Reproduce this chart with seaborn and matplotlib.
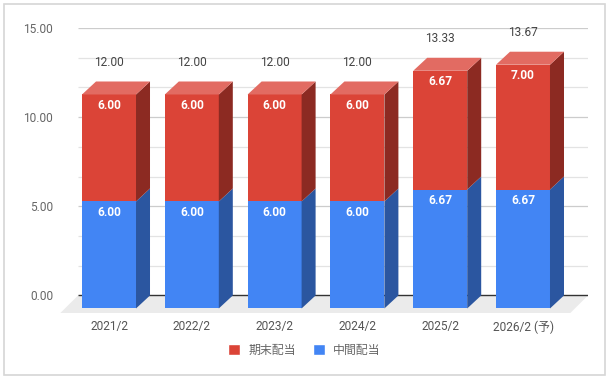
import pandas as pd
import seaborn as sns
from matplotlib import pyplot as plt
from matplotlib.patches import Polygon, Patch, Rectangle

# data
years = ["2021/2", "2022/2", "2023/2", "2024/2", "2025/2", "2026/2 (予)"]
interim = [6.00, 6.00, 6.00, 6.00, 6.67, 6.67]     # 中間配当
final = [6.00, 6.00, 6.00, 6.00, 6.67, 7.00]       # 期末配当
totals = [12.00, 12.00, 12.00, 12.00, 13.33, 13.67]

df = pd.DataFrame({"year": years, "interim": interim, "final": final, "total": totals})

blue, blue_side = "#4285F4", "#2B56A0"
red, red_side, red_top = "#DB4437", "#8C2A22", "#E26B62"

sns.set_style("white")
plt.rcParams["font.family"] = ["Roboto", "Noto Sans CJK JP", "DejaVu Sans"]

fig = plt.figure(figsize=(6.09, 3.79), dpi=100)
ax = fig.add_axes([60 / 609, 1 - 313.3 / 379, 528 / 609, 285.3 / 379])

# pseudo 3d depth in data units (bars and floor)
ddx, ddy = 14 / 82.8, 13 / 17.83
fdx, fdy = 18 / 82.8, 1.0
x_back0, x_back1 = -0.374, 5.785

# floor + grid
ax.add_patch(Polygon([(x_back0, 0), (x_back1, 0), (x_back1 - fdx, -fdy), (x_back0 - fdx, -fdy)],
                     closed=True, facecolor="#ebebeb", edgecolor="none", zorder=0))
for k in range(1, 10):
    y = k * 5 / 3
    ax.hlines(y, x_back0, x_back1, color="#cccccc" if k % 3 == 0 else "#e3e3e3", lw=0.9, zorder=0)
ax.hlines(0, x_back0, x_back1, color="#333333", lw=1.0, zorder=1)

# front faces
sns.barplot(data=df, x="year", y="total", color=red, saturation=1, width=0.652, ax=ax, zorder=2)
sns.barplot(data=df, x="year", y="interim", color=blue, saturation=1, width=0.652, ax=ax, zorder=2)
for p in ax.patches:
    if isinstance(p, Rectangle):
        p.set_y(p.get_y() - ddy)
        p.set_linewidth(0)

# side and top faces
for i, (b, t) in enumerate(zip(interim, totals)):
    x1 = i + 0.652 / 2
    x0 = i - 0.652 / 2
    ax.add_patch(Polygon([(x1, -ddy), (x1 + ddx, 0), (x1 + ddx, b), (x1, b - ddy)],
                         facecolor=blue_side, edgecolor="none", zorder=2))
    ax.add_patch(Polygon([(x1, b - ddy), (x1 + ddx, b), (x1 + ddx, t), (x1, t - ddy)],
                         facecolor=red_side, edgecolor="none", zorder=2))
    ax.add_patch(Polygon([(x0, t - ddy), (x0 + ddx, t), (x1 + ddx, t), (x1, t - ddy)],
                         facecolor=red_top, edgecolor="none", zorder=2))
    # labels
    ax.text(i, b - ddy - 0.62, f"{b:.2f}", ha="center", va="center", color="white",
            fontsize=8.6, fontweight="bold", zorder=3)
    ax.text(i, t - ddy - 0.62, f"{final[i]:.2f}", ha="center", va="center", color="white",
            fontsize=8.6, fontweight="bold", zorder=3)
    ax.text(i, t + 1.07, f"{t:.2f}", ha="center", va="center", color="#444444",
            fontsize=8.6, zorder=3)

ax.set_xlim(-0.592, 5.785)
ax.set_ylim(-1.0, 15.0)
ax.set_yticks([0, 5, 10, 15])
ax.set_yticklabels([f"{v:.2f}" for v in [0, 5, 10, 15]])
ax.set_xlabel("")
ax.set_ylabel("")
ax.tick_params(axis="y", length=0, pad=5, labelsize=8.6, labelcolor="#666666")
ax.tick_params(axis="x", length=0, pad=5, labelsize=8.6, labelcolor="#555555")
sns.despine(ax=ax, left=True, bottom=True)
ax.patch.set_alpha(0)

handles = [Patch(facecolor=red, label="期末配当"), Patch(facecolor=blue, label="中間配当")]
leg = fig.legend(handles=handles, loc="center", bbox_to_anchor=(0.5, 1 - 350 / 379), ncol=2,
                 frameon=False, fontsize=8.6, handlelength=1.0, handleheight=1.0,
                 handletextpad=0.7, columnspacing=1.4)
for txt in leg.get_texts():
    txt.set_color("#666666")

fig.patches.append(Rectangle((4 / 609, 4 / 379), 601 / 609, 371 / 379, transform=fig.transFigure,
                             fill=False, edgecolor="#d6d6d6", lw=1.2))

fig.savefig("out.png", dpi=100)
